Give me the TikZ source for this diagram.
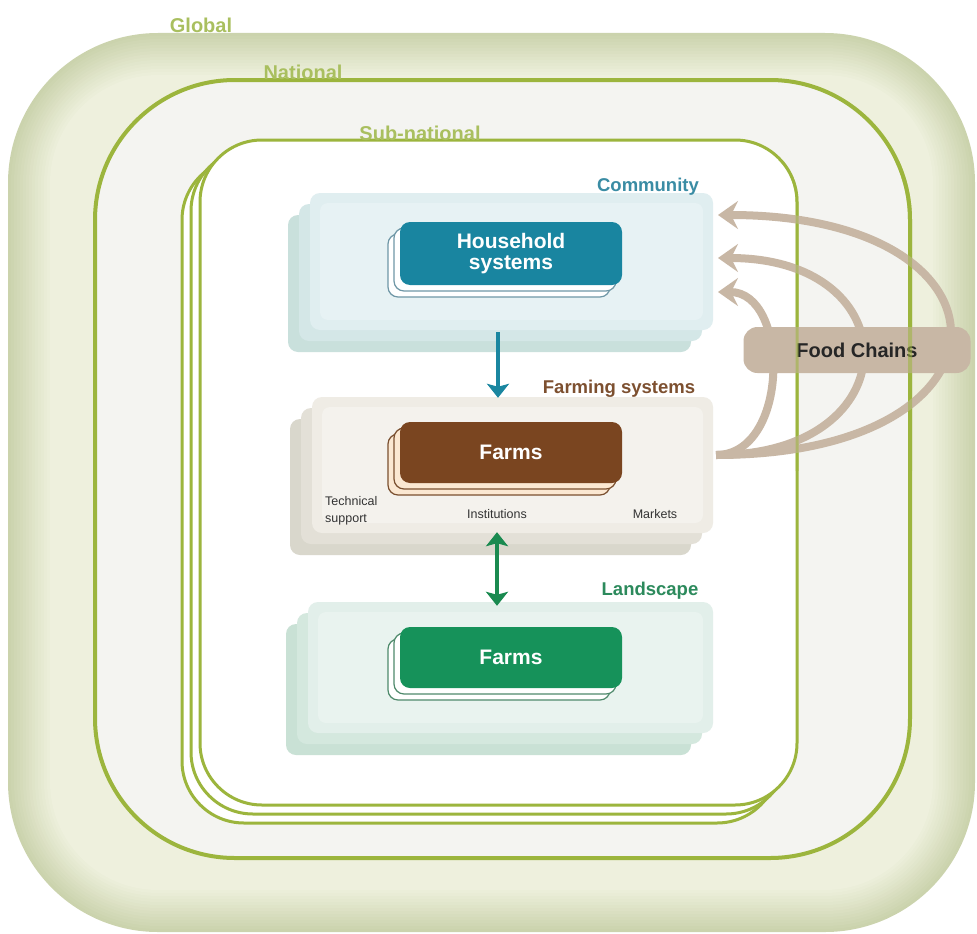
\documentclass[tikz,border=0pt]{standalone}
\usepackage{fontspec}
\setmainfont{Liberation Sans}
\usetikzlibrary{arrows.meta}
\definecolor{globout}{HTML}{CBD3AD}
\definecolor{globin}{HTML}{EEF0DD}
\definecolor{natfill}{HTML}{F4F4F1}
\definecolor{natline}{HTML}{9CB53D}
\definecolor{lblgreen}{HTML}{A9BF5F}
\definecolor{comtext}{HTML}{3A8CA4}
\definecolor{tealbox}{HTML}{1985A0}
\definecolor{tealback}{HTML}{6F97A6}
\definecolor{farmtext}{HTML}{7D5030}
\definecolor{brownbox}{HTML}{7A4520}
\definecolor{brownbackfill}{HTML}{FBE8D2}
\definecolor{brownback}{HTML}{7A5030}
\definecolor{landtext}{HTML}{2C8A5C}
\definecolor{greenbox}{HTML}{16925A}
\definecolor{greenback}{HTML}{4F8A6C}
\definecolor{fccol}{HTML}{C8B7A5}
\definecolor{tealarrow}{HTML}{1A86A0}
\definecolor{greenarrow}{HTML}{1A8A50}
\definecolor{comfront}{HTML}{E0EEF0}
\definecolor{comlight}{HTML}{E7F2F4}
\definecolor{comback1}{HTML}{D4E7E7}
\definecolor{comback2}{HTML}{C9E0DC}
\definecolor{farfront}{HTML}{EFECE5}
\definecolor{farlight}{HTML}{F4F2ED}
\definecolor{farback1}{HTML}{E3E0D7}
\definecolor{farback2}{HTML}{D9D7CC}
\definecolor{lanfront}{HTML}{E2EFEA}
\definecolor{lanlight}{HTML}{E9F3EF}
\definecolor{lanback1}{HTML}{D4E8DE}
\definecolor{lanback2}{HTML}{C9E1D5}
\definecolor{smalltext}{HTML}{333333}
\tikzset{
  natstyle/.style={draw=natline, line width=4pt},
  substyle/.style={draw=natline, line width=3pt},
  lvllbl/.style={font=\bfseries\fontsize{20}{22}\selectfont, text=lblgreen, inner sep=0pt},
  panellbl/.style={font=\bfseries\fontsize{18.5}{20}\selectfont, inner sep=0pt},
  panelbox/.style={rectangle, rounded corners=10pt, inner sep=0pt},
  innerbox/.style={rectangle, rounded corners=10pt, inner sep=0pt, minimum width=222pt,
    text=white, font=\bfseries\fontsize{21}{21}\selectfont, align=center},
  smalllbl/.style={font=\fontsize{12.5}{17}\selectfont, text=smalltext, inner sep=0pt},
  fcarrow/.style={draw=fccol, line width=8pt, -{Stealth[length=20pt,width=28pt,inset=7pt]}},
  fcbox/.style={rectangle, rounded corners=14pt, fill=fccol, minimum width=227pt, minimum height=46pt,
    font=\bfseries\fontsize{20}{22}\selectfont, text=black!85},
}
\begin{document}
\begin{tikzpicture}[x=1pt,y=-1pt]
\useasboundingbox (0,0) rectangle (977,934);
% Global band (layered gradient)
\foreach \i in {0,...,14}{
  \pgfmathtruncatemacro\p{\i*100/14}
  \pgfmathsetmacro\r{150-3*\i}
  \fill[rounded corners=\r pt, fill=globin!\p!globout] ({8+3*\i},{33+3*\i}) rectangle ({975-3*\i},{932-3*\i});
}
% National
\draw[natstyle, fill=natfill, rounded corners=140pt] (95,80) rectangle (910,858);
% Sub-national stack
\draw[substyle, fill=white, rounded corners=62pt] (182,158) rectangle (779,823);
\draw[substyle, fill=white, rounded corners=62pt] (191,149) rectangle (788,814);
\draw[substyle, fill=white, rounded corners=62pt] (200,140) rectangle (797,805);
% Level labels
\node[lvllbl] (glob) at (201,25) {Global};
\node[lvllbl] (nat) at (303,72) {National};
\node[lvllbl] (subn) at (420,133) {Sub-national};

% Community panel
\fill[comback2, rounded corners=10pt] (288,215) rectangle (691,352);
\fill[comback1, rounded corners=10pt] (299,204) rectangle (702,341);
\node[panelbox, fill=comfront, minimum width=403pt, minimum height=137pt] (comm) at (511.5,261.5) {};
\fill[comlight, rounded corners=8pt] (320,203) rectangle (703,320);
\node[panellbl, text=comtext] (commlbl) at (648,187) {Community};
\foreach \o in {12,6}
  \draw[draw=tealback, fill=white, line width=1.2pt, rounded corners=10pt] ({400-\o},{222+\o}) rectangle ({622-\o},{285+\o});
\node[innerbox, fill=tealbox, minimum height=63pt] (hh) at (511,253.5) {Household\\systems};

% Farming systems panel
\fill[farback2, rounded corners=10pt] (290,419) rectangle (691,555);
\fill[farback1, rounded corners=10pt] (301,408) rectangle (702,544);
\node[panelbox, fill=farfront, minimum width=401pt, minimum height=136pt] (farm) at (512.5,465) {};
\fill[farlight, rounded corners=8pt] (322,407) rectangle (703,523);
\node[panellbl, text=farmtext] (farmlbl) at (619,389) {Farming systems};
\foreach \o in {12,6}
  \draw[draw=brownback, fill=brownbackfill, line width=1.2pt, rounded corners=10pt] ({400-\o},{422+\o}) rectangle ({622-\o},{483+\o});
\node[innerbox, fill=brownbox, minimum height=61pt] (farms1) at (511,452.5) {Farms};
\node[smalllbl, align=left, anchor=west] (tech) at (325,511) {Technical\\support};
\node[smalllbl] (inst) at (497,514) {Institutions};
\node[smalllbl] (mark) at (655,514) {Markets};

% Landscape panel
\fill[lanback2, rounded corners=10pt] (286,624) rectangle (691,755);
\fill[lanback1, rounded corners=10pt] (297,613) rectangle (702,744);
\node[panelbox, fill=lanfront, minimum width=405pt, minimum height=131pt] (land) at (510.5,667.5) {};
\fill[lanlight, rounded corners=8pt] (318,612) rectangle (703,723);
\node[panellbl, text=landtext] (landlbl) at (650,591) {Landscape};
\foreach \o in {12,6}
  \draw[draw=greenback, fill=white, line width=1.2pt, rounded corners=10pt] ({400-\o},{627+\o}) rectangle ({622-\o},{688+\o});
\node[innerbox, fill=greenbox, minimum height=61pt] (farms2) at (511,657.5) {Farms};

% Vertical arrows
\draw[draw=tealarrow, line width=4pt, -{Stealth[length=14pt,width=22pt,inset=3pt]}]
  ([xshift=-13.5pt,yshift=-2pt]comm.south) -- ([xshift=-14.5pt,yshift=-1pt]farm.north);
\draw[draw=greenarrow, line width=4pt, {Stealth[length=14pt,width=22pt,inset=3pt]}-{Stealth[length=14pt,width=22pt,inset=3pt]}]
  ([xshift=-15.5pt,yshift=1pt]farm.south) -- ([xshift=-13.5pt,yshift=-4pt]land.north);

% Food chains
\coordinate (fcs) at (716,455);
\coordinate (t1) at (718,215);
\coordinate (t2) at (718,258);
\coordinate (t3) at (718,292);
\draw[fcarrow] (fcs) .. controls (1027,455) and (1027,215) .. (t1);
\draw[fcarrow] (fcs) .. controls (911,455) and (911,258) .. (t2);
\draw[fcarrow] (fcs) .. controls (790,455) and (790,292) .. (t3);
\node[fcbox] (fc) at (857,350) {Food Chains};
% green lines seen through the food chains
\begin{scope}
  \clip (740,160) rectangle (977,470);
  \draw[natstyle, opacity=0.55, rounded corners=140pt] (95,80) rectangle (910,858);
  \draw[substyle, opacity=0.55, rounded corners=62pt] (200,140) rectangle (797,805);
\end{scope}
\end{tikzpicture}
\end{document}
